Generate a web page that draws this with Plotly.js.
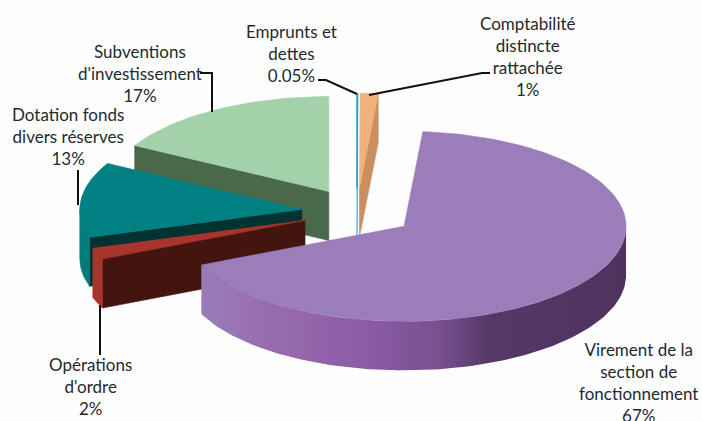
<!DOCTYPE html>
<html><head><meta charset="utf-8">
<script src="https://cdn.plot.ly/plotly-3.0.0.min.js"></script>
<style>html,body{margin:0;padding:0;background:#fff}#c{width:702px;height:421px}</style>
</head><body><div id="c"></div>
<script>
// Data, in clockwise pie order from 12 o'clock
const categories = ["Emprunts et<br>dettes","Comptabilité<br>distincte<br>rattachée","Virement de la<br>section de<br>fonctionnement","Opérations<br>d'ordre","Dotation fonds<br>divers réserves","Subventions<br>d'investissement"];
const percentLabels = ["0.05%","1%","67%","2%","13%","17%"];
const sliceValues = [0.05,1.3,67,1.95,12.8,16.95];
const explode = [0.25,0.25,0.26,0.25,0.25,0.25];
const topColors  = ["#12a0e0","#f0b27c","#9a7db9","#a8352c","#008080","#a3d2aa"];
const cutColors  = ["#12a0e0","#c98f60","#9a7db9","#44140f","#003232","#4a684a"];
const wallColors = ["#12a0e0","#c98f60",null,"#a8352c","#027c7c","#4a684a"];
const purpleWallScale = [[0,"#9a7cb8"],[0.207,"#9668ad"],[0.4,"#8b5aa5"],[0.56,"#78508f"],[0.68,"#553868"],[1,"#50325f"]];
const drawOrder = [5,0,1,4,3,2];
const labelX = [291,528,638,90,68,140];
const labelY = [53,56,382,386,136,73];

// Pie geometry (projection of the disc)
const CX=357, CY=212, RX=222, RY=95, DEPTH=49;
const total = sliceValues.reduce((a,b)=>a+b,0);
const rad = d=>d*Math.PI/180;
const pt = (o,deg,dy=0)=>[o[0]+RX*Math.sin(rad(deg)), o[1]-RY*Math.cos(rad(deg))+dy];
function arc(o,a,b,dy=0){const n=Math.max(2,Math.ceil(Math.abs(b-a)/1.5));const r=[];for(let i=0;i<=n;i++)r.push(pt(o,a+(b-a)*i/n,dy));return r;}
function poly(points,fill,extra={}){
  const p=points.concat([points[0]]);
  return Object.assign({type:'scatter',mode:'lines',x:p.map(q=>q[0]),y:p.map(q=>q[1]),fill:'toself',fillcolor:fill,
    line:{color:fill,width:0.6},hoverinfo:'skip',showlegend:false},extra);
}
let cum=0; const slices=sliceValues.map((v,i)=>{const a=cum/total*360;cum+=v;const b=cum/total*360;const m=(a+b)/2;
  return {i,a,b,o:[CX+explode[i]*RX*Math.sin(rad(m)),CY-explode[i]*RY*Math.cos(rad(m))]};});
const traces=[];
drawOrder.forEach(k=>{
  const s=slices[k],o=s.o,top=topColors[k],cut=cutColors[k];
  const down=p=>[p[0],p[1]+DEPTH];
  // cut walls: only the one facing the viewer shows
  const start=pt(o,s.a),end=pt(o,s.b);
  if(s.b<=180) traces.push(poly([o,end,down(end),down(o)],cut));
  if(s.a>=180) traces.push(poly([o,start,down(start),down(o)],cut));
  // outer wall: the front half of the rim
  const wa=Math.max(s.a,90),wb=Math.min(s.b,270);
  if(wb>wa){
    const rim=arc(o,wa,wb),low=arc(o,wb,wa,DEPTH);
    if(k===2){
      traces.push(poly(rim.concat(low),'#50325f',{fillgradient:{type:'horizontal',colorscale:purpleWallScale},line:{width:0}}));
    } else traces.push(poly(rim.concat(low),wallColors[k]));
  }
  // top face
  traces.push(poly([o].concat(arc(o,s.a,s.b)),top,k===0?{line:{color:top,width:1.6}}:{}));
});

const leaders=["M318,80 L326,80 L357,94","M369,95 L482,73 L490,73","M200,73 L212,73 L212,112","M78,170 L78,205","M100,305 L100,355"];
const ink="#1e2a30";
const layout={width:702,height:421,margin:{l:0,r:0,t:0,b:0},paper_bgcolor:'#fefefe',plot_bgcolor:'#fefefe',showlegend:false,
  xaxis:{range:[0,702],visible:false,fixedrange:true},
  yaxis:{range:[421,0],visible:false,fixedrange:true},
  shapes:leaders.map(d=>({type:'path',path:d,xref:'x',yref:'y',line:{color:'#111',width:2}})),
  annotations:categories.map((c,i)=>({x:labelX[i],y:labelY[i],xref:'x',yref:'y',showarrow:false,align:'center',
    text:c+"<br>"+percentLabels[i],font:{family:'Lato, "Open Sans", sans-serif',size:17,color:ink}}))
};
Plotly.newPlot('c',traces,layout,{displayModeBar:false,staticPlot:true});
</script></body></html>
